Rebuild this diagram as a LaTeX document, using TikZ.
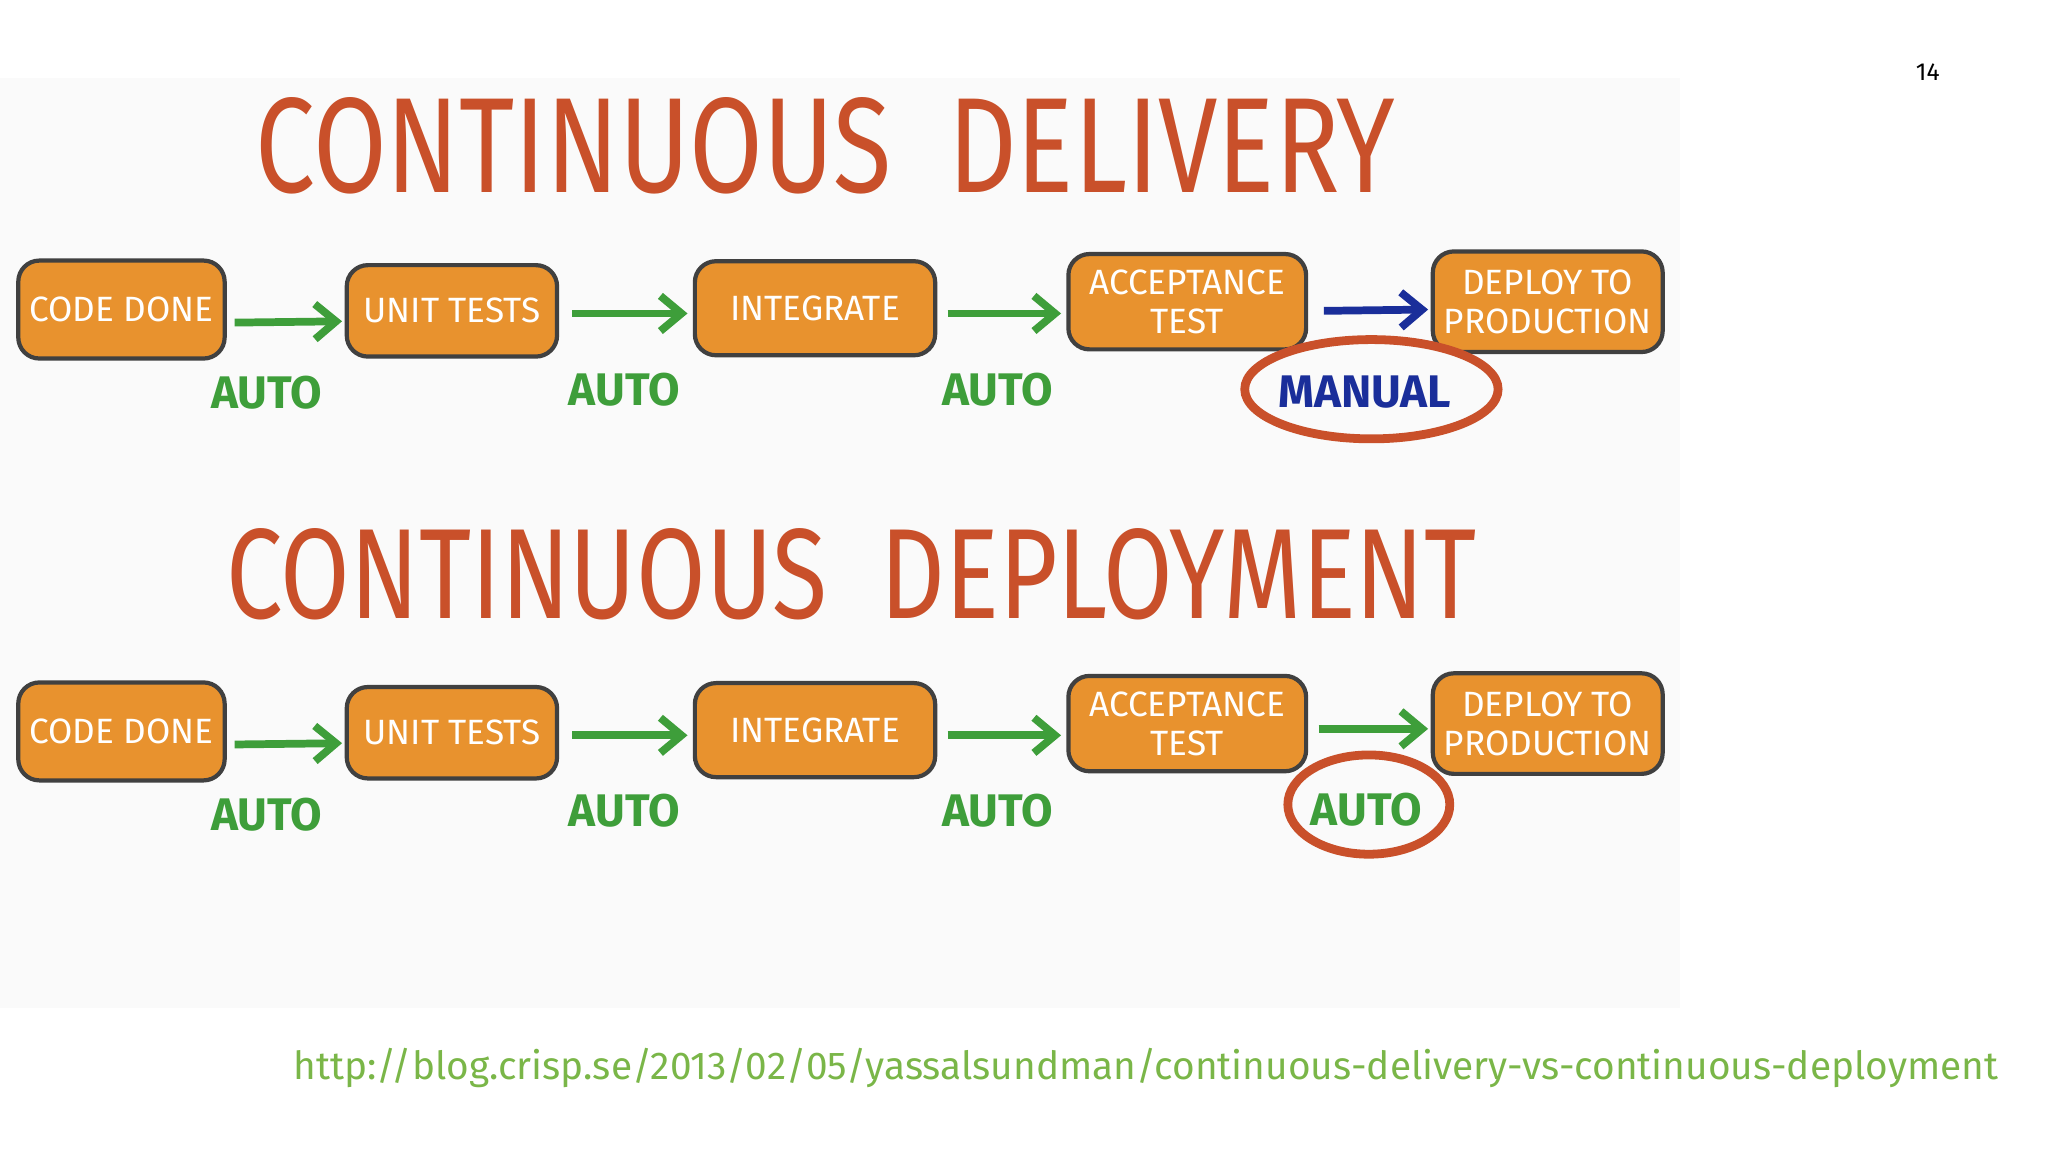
\documentclass[tikz,border=0pt]{standalone}
\usepackage{fontspec}
\setmainfont{Fira Sans}
\usetikzlibrary{arrows.meta,calc}
\definecolor{boxor}{HTML}{E8922E}
\definecolor{titler}{HTML}{C9502A}
\definecolor{grn}{HTML}{3E9E3A}
\definecolor{blu}{HTML}{1A2E9A}
\definecolor{urlg}{HTML}{7AB648}
\def\uu{0.013061cm}
\begin{document}
\begin{tikzpicture}[x=0.013061cm,y=-0.013061cm,
  box/.style={draw=black!75,line width=1.2pt,fill=boxor,rounded corners=6pt,text=white,font=\fontsize{10}{11}\selectfont,align=center,inner sep=0},
  arr/.style={draw=grn,line width=2.2pt,-{Straight Barb[length=6pt,width=10pt]}},
  lab/.style={font=\bfseries\fontsize{13}{13}\selectfont},
  circ/.style={draw=titler,line width=2.5pt}]
\useasboundingbox (0,0) rectangle (1568,882);
\fill[black!2] (0,60) rectangle (1286,772);
\node[font=\fontsize{7}{8}\selectfont] (pg) at (1476,55) {14};
\node[text=titler] (t1) at (632,112) {\resizebox{11.4cm}{0.95cm}{CONTINUOUS\ \ DELIVERY}};
\node[text=titler] (t2) at (652,440) {\resizebox{12.5cm}{0.9cm}{CONTINUOUS\ \ DEPLOYMENT}};
\foreach \r/\dy in {a/0,b/323}{
 \node[box,minimum width=158*\uu,minimum height=75*\uu] (cd\r) at (93,237+\dy) {CODE DONE};
 \node[box,minimum width=161*\uu,minimum height=70*\uu] (ut\r) at (346,238+\dy) {UNIT TESTS};
 \node[box,minimum width=184*\uu,minimum height=72*\uu] (in\r) at (624,236+\dy) {INTEGRATE};
 \node[box,minimum width=182*\uu,minimum height=73*\uu] (ac\r) at (909,231+\dy) {ACCEPTANCE\\TEST};
 \node[box,minimum width=176*\uu,minimum height=77*\uu] (dp\r) at (1185,231+\dy) {DEPLOY TO\\PRODUCTION};
 \draw[arr] ($(cd\r.east)+(6,10)$) -- ($(ut\r.west)+(-2,8)$);
 \draw[arr] ($(ut\r.east)+(10,2)$) -- ($(in\r.west)+(-4,4)$);
 \draw[arr] ($(in\r.east)+(8,4)$) -- ($(ac\r.west)+(-4,9)$);
 \node[lab,text=grn] (au1\r) at (204,301+\dy) {AUTO};
 \node[lab,text=grn] (au2\r) at (478,298+\dy) {AUTO};
 \node[lab,text=grn] (au3\r) at (764,298+\dy) {AUTO};
}
\draw[arr,draw=blu] ($(aca.east)+(12,7)$) -- ($(dpa.west)+(-2,6)$);
\draw[arr] ($(acb.east)+(8,4)$) -- ($(dpb.west)+(-2,4)$);
\node[lab,text=blu] (man) at (1045,300) {MANUAL};
\draw[circ] (1050,298) ellipse [x radius=97,y radius=38];
\node[lab,text=grn] (au4) at (1046,620) {AUTO};
\draw[circ] (1048,616) ellipse [x radius=62,y radius=38];
\node[text=urlg,anchor=west,inner sep=0] (url) at (224,818) {\resizebox{17.05cm}{!}{http://blog.crisp.se/2013/02/05/yassalsundman/continuous-delivery-vs-continuous-deployment}};
\end{tikzpicture}
\end{document}
